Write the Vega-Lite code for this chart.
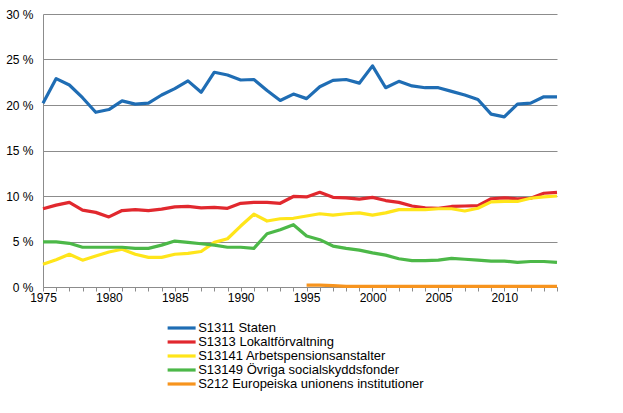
{
  "$schema": "https://vega.github.io/schema/vega-lite/v6.json",
  "autosize": {"type": "none"},
  "padding": {"left": 43, "top": 14, "right": 66, "bottom": 126},
  "width": 514,
  "height": 273,
  "data": {
    "values": [
      {"year": 1975, "S1311": 20.2, "S1313": 8.6, "S13141": 2.5, "S13149": 4.95, "S212": null},
      {"year": 1976, "S1311": 22.9, "S1313": 9.0, "S13141": 3.0, "S13149": 4.95, "S212": null},
      {"year": 1977, "S1311": 22.2, "S1313": 9.3, "S13141": 3.6, "S13149": 4.8, "S212": null},
      {"year": 1978, "S1311": 20.8, "S1313": 8.45, "S13141": 2.95, "S13149": 4.37, "S212": null},
      {"year": 1979, "S1311": 19.2, "S1313": 8.2, "S13141": 3.4, "S13149": 4.37, "S212": null},
      {"year": 1980, "S1311": 19.5, "S1313": 7.7, "S13141": 3.85, "S13149": 4.37, "S212": null},
      {"year": 1981, "S1311": 20.45, "S1313": 8.4, "S13141": 4.15, "S13149": 4.37, "S212": null},
      {"year": 1982, "S1311": 20.1, "S1313": 8.5, "S13141": 3.6, "S13149": 4.25, "S212": null},
      {"year": 1983, "S1311": 20.2, "S1313": 8.4, "S13141": 3.25, "S13149": 4.25, "S212": null},
      {"year": 1984, "S1311": 21.1, "S1313": 8.55, "S13141": 3.25, "S13149": 4.6, "S212": null},
      {"year": 1985, "S1311": 21.8, "S1313": 8.8, "S13141": 3.6, "S13149": 5.05, "S212": null},
      {"year": 1986, "S1311": 22.65, "S1313": 8.85, "S13141": 3.7, "S13149": 4.9, "S212": null},
      {"year": 1987, "S1311": 21.4, "S1313": 8.7, "S13141": 3.9, "S13149": 4.75, "S212": null},
      {"year": 1988, "S1311": 23.6, "S1313": 8.75, "S13141": 4.9, "S13149": 4.6, "S212": null},
      {"year": 1989, "S1311": 23.3, "S1313": 8.65, "S13141": 5.3, "S13149": 4.37, "S212": null},
      {"year": 1990, "S1311": 22.75, "S1313": 9.2, "S13141": 6.7, "S13149": 4.37, "S212": null},
      {"year": 1991, "S1311": 22.8, "S1313": 9.3, "S13141": 8.0, "S13149": 4.25, "S212": null},
      {"year": 1992, "S1311": 21.6, "S1313": 9.3, "S13141": 7.25, "S13149": 5.85, "S212": null},
      {"year": 1993, "S1311": 20.5, "S1313": 9.2, "S13141": 7.5, "S13149": 6.3, "S212": null},
      {"year": 1994, "S1311": 21.2, "S1313": 9.95, "S13141": 7.55, "S13149": 6.85, "S212": null},
      {"year": 1995, "S1311": 20.7, "S1313": 9.9, "S13141": 7.8, "S13149": 5.6, "S212": 0.2},
      {"year": 1996, "S1311": 22.0, "S1313": 10.4, "S13141": 8.05, "S13149": 5.2, "S212": 0.2},
      {"year": 1997, "S1311": 22.7, "S1313": 9.85, "S13141": 7.9, "S13149": 4.5, "S212": 0.15},
      {"year": 1998, "S1311": 22.8, "S1313": 9.8, "S13141": 8.05, "S13149": 4.25, "S212": 0.07},
      {"year": 1999, "S1311": 22.4, "S1313": 9.65, "S13141": 8.15, "S13149": 4.05, "S212": 0.07},
      {"year": 2000, "S1311": 24.3, "S1313": 9.85, "S13141": 7.9, "S13149": 3.75, "S212": 0.07},
      {"year": 2001, "S1311": 21.9, "S1313": 9.5, "S13141": 8.15, "S13149": 3.5, "S212": 0.07},
      {"year": 2002, "S1311": 22.6, "S1313": 9.3, "S13141": 8.5, "S13149": 3.1, "S212": 0.07},
      {"year": 2003, "S1311": 22.1, "S1313": 8.9, "S13141": 8.5, "S13149": 2.9, "S212": 0.07},
      {"year": 2004, "S1311": 21.9, "S1313": 8.7, "S13141": 8.5, "S13149": 2.9, "S212": 0.07},
      {"year": 2005, "S1311": 21.9, "S1313": 8.65, "S13141": 8.6, "S13149": 2.95, "S212": 0.07},
      {"year": 2006, "S1311": 21.5, "S1313": 8.85, "S13141": 8.6, "S13149": 3.15, "S212": 0.07},
      {"year": 2007, "S1311": 21.1, "S1313": 8.9, "S13141": 8.35, "S13149": 3.05, "S212": 0.07},
      {"year": 2008, "S1311": 20.6, "S1313": 8.95, "S13141": 8.65, "S13149": 2.95, "S212": 0.07},
      {"year": 2009, "S1311": 19.0, "S1313": 9.7, "S13141": 9.35, "S13149": 2.85, "S212": 0.07},
      {"year": 2010, "S1311": 18.7, "S1313": 9.8, "S13141": 9.4, "S13149": 2.85, "S212": 0.07},
      {"year": 2011, "S1311": 20.1, "S1313": 9.7, "S13141": 9.4, "S13149": 2.7, "S212": 0.07},
      {"year": 2012, "S1311": 20.2, "S1313": 9.75, "S13141": 9.75, "S13149": 2.8, "S212": 0.07},
      {"year": 2013, "S1311": 20.9, "S1313": 10.3, "S13141": 9.9, "S13149": 2.8, "S212": 0.07},
      {"year": 2014, "S1311": 20.9, "S1313": 10.4, "S13141": 10.0, "S13149": 2.7, "S212": 0.07}
    ]
  },
  "transform": [
    {"fold": ["S1311", "S1313", "S13141", "S13149", "S212"], "as": ["code", "value"]},
    {"filter": "datum.value != null"},
    {"lookup": "code", "from": {"data": {"values": [
      {"code": "S1311", "sector": "S1311 Staten"},
      {"code": "S1313", "sector": "S1313 Lokaltförvaltning"},
      {"code": "S13141", "sector": "S13141 Arbetspensionsanstalter"},
      {"code": "S13149", "sector": "S13149 Övriga socialskyddsfonder"},
      {"code": "S212", "sector": "S212 Europeiska unionens institutioner"}
    ]}, "key": "code", "fields": ["sector"]}}
  ],
  "mark": {"type": "line", "strokeWidth": 3.2, "strokeJoin": "round"},
  "encoding": {
    "x": {
      "field": "year",
      "type": "quantitative",
      "scale": {"domain": [1975, 2014], "nice": false, "zero": false},
      "axis": {
        "title": null,
        "values": [1975, 1976, 1977, 1978, 1979, 1980, 1981, 1982, 1983, 1984, 1985, 1986, 1987, 1988, 1989, 1990, 1991, 1992, 1993, 1994, 1995, 1996, 1997, 1998, 1999, 2000, 2001, 2002, 2003, 2004, 2005, 2006, 2007, 2008, 2009, 2010, 2011, 2012, 2013, 2014],
        "labelExpr": "datum.value % 5 == 0 ? format(datum.value, 'd') : ''",
        "grid": false,
        "tickSize": 4,
        "labelPadding": 1,
        "labelFlush": false,
        "labelOverlap": false
      }
    },
    "y": {
      "field": "value",
      "type": "quantitative",
      "scale": {"domain": [0, 30], "nice": false},
      "axis": {
        "title": null,
        "values": [0, 5, 10, 15, 20, 25, 30],
        "labelExpr": "datum.value + ' %'",
        "tickSize": 0,
        "labelPadding": 10,
        "gridColor": "#8c8c8c",
        "gridWidth": 1
      }
    },
    "color": {
      "field": "sector",
      "type": "nominal",
      "scale": {
        "domain": [
          "S1311 Staten",
          "S1313 Lokaltförvaltning",
          "S13141 Arbetspensionsanstalter",
          "S13149 Övriga socialskyddsfonder",
          "S212 Europeiska unionens institutioner"
        ],
        "range": ["#1f6db4", "#e1282e", "#ffe51a", "#4cb848", "#f7941e"]
      },
      "legend": {
        "title": null,
        "orient": "none",
        "legendX": 123,
        "legendY": 307,
        "symbolType": "M-1,0H4.2",
        "symbolSize": 116,
        "symbolStrokeWidth": 3.2,
        "rowPadding": 0,
        "labelOffset": 18.2,
        "labelFontSize": 13,
        "labelFont": "Liberation Sans",
        "labelColor": "#000000",
        "labelLimit": 400
      }
    }
  },
  "config": {
    "view": {"stroke": null},
    "font": "Liberation Sans",
    "axis": {
      "labelFont": "Liberation Sans",
      "labelFontSize": 12,
      "labelColor": "#000000",
      "domainColor": "#8c8c8c",
      "tickColor": "#8c8c8c"
    }
  }
}
